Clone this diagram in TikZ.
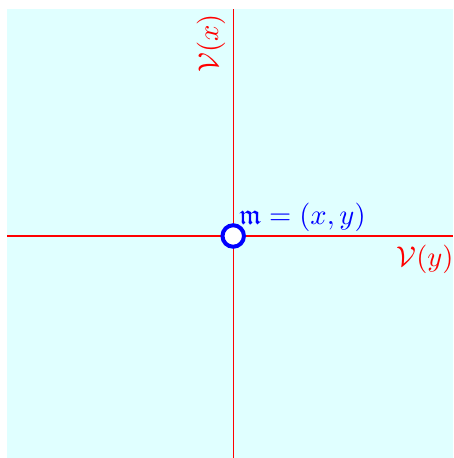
\documentclass[tikz,border=0pt]{standalone}
\usepackage{amsmath,amssymb}
\definecolor{bgcyan}{RGB}{224,255,255}
\begin{document}
\begin{tikzpicture}[x=0.35pt,y=-0.35pt,
  axis/.style={draw=red,line width=0.45pt},
  lbl/.style={red,inner sep=0pt},
  ptlbl/.style={blue,inner sep=0pt}]
\useasboundingbox (0,0) rectangle (453,458);
\fill[bgcyan] (7,9.5) rectangle (453,458);
\coordinate (L) at (7,236);
\coordinate (R) at (453,236);
\coordinate (T) at (233.2,9.5);
\coordinate (B) at (233.2,458);
\path[axis] (L) -- (R);
\path[axis] (T) -- (B);
\node[circle,draw=blue,fill=white,line width=1.4pt,minimum size=21.5*0.35pt,inner sep=0pt] (m) at (233.2,236) {};
\node[lbl,rotate=90] (vx) at (211,43.5) {$\mathcal{V}(x)$};
\node[lbl] (vy) at (425,259) {$\mathcal{V}(y)$};
\node[ptlbl] (ml) at (302.5,217) {$\mathfrak{m}=(x,y)$};
\end{tikzpicture}
\end{document}
